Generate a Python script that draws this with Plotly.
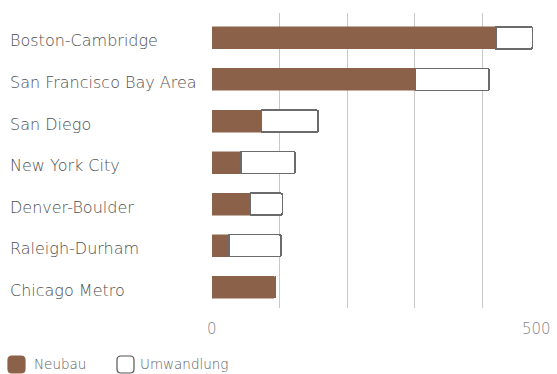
import plotly.graph_objects as go

categories = ["Boston-Cambridge", "San Francisco Bay Area", "San Diego", "New York City",
              "Denver-Boulder", "Raleigh-Durham", "Chicago Metro"]
neubau = [420, 301, 73, 43, 57, 25, 94]
umwandlung = [54, 109, 84, 80, 47, 77, 0]
x_tick_vals = [0, 500]
x_tick_text = ["0", "500"]
grid_vals = [0, 100, 200, 300, 400, 500]
series_names = ["Neubau", "Umwandlung"]

FONT = "DejaVu Sans"
NEUBAU_COLOR = "#8B6249"
EDGE_COLOR = "#6b6b6b"
W, H = 557, 374
ml, mr, mt, mb = 212, 7, 13, 66
pw = W - ml - mr
ph = H - mt - mb

fig = go.Figure()
fig.add_trace(go.Bar(
    y=categories, x=neubau, name=series_names[0], orientation="h",
    marker=dict(color=NEUBAU_COLOR, line=dict(color=NEUBAU_COLOR, width=0.5), cornerradius=2),
    width=0.53,
))
fig.add_trace(go.Bar(
    y=categories, x=umwandlung, name=series_names[1], orientation="h",
    marker=dict(color="#ffffff", line=dict(color=EDGE_COLOR, width=1.5), cornerradius=2),
    width=0.53,
))

annotations = []
for c in categories:
    annotations.append(dict(
        x=-(ml - 8) / pw, xref="paper", y=c, yref="y", text=c, showarrow=False,
        xanchor="left", yanchor="middle", yshift=-3,
        font=dict(family=FONT, size=16, color="#505050", weight=200),
    ))
for v, t in zip(x_tick_vals, x_tick_text):
    last = v == max(x_tick_vals)
    annotations.append(dict(
        x=v, xref="x", y=0, yref="paper", text=t, showarrow=False,
        xanchor="right" if last else "center", xshift=3 if last else 0,
        yanchor="middle", yshift=-21,
        font=dict(family=FONT, size=15, color="#858585", weight=200),
    ))


def px_x(p):
    return (p - ml) / pw


def px_y(p):
    return (H - mb - p) / ph


def rounded_rect(x0, y0, x1, y1, r):
    pts = [
        f"M {px_x(x0 + r)},{px_y(y0)}",
        f"L {px_x(x1 - r)},{px_y(y0)}",
        f"Q {px_x(x1)},{px_y(y0)} {px_x(x1)},{px_y(y0 + r)}",
        f"L {px_x(x1)},{px_y(y1 - r)}",
        f"Q {px_x(x1)},{px_y(y1)} {px_x(x1 - r)},{px_y(y1)}",
        f"L {px_x(x0 + r)},{px_y(y1)}",
        f"Q {px_x(x0)},{px_y(y1)} {px_x(x0)},{px_y(y1 - r)}",
        f"L {px_x(x0)},{px_y(y0 + r)}",
        f"Q {px_x(x0)},{px_y(y0)} {px_x(x0 + r)},{px_y(y0)}",
        "Z",
    ]
    return " ".join(pts)


legend_items = [
    (series_names[0], 8, NEUBAU_COLOR, NEUBAU_COLOR, 32),
    (series_names[1], 117, "#ffffff", "#555555", 138),
]
shapes = []
for name, sx, fill, edge, tx in legend_items:
    shapes.append(dict(type="path", xref="paper", yref="paper",
                       path=rounded_rect(sx, 356, sx + 17, 373, 4),
                       fillcolor=fill, line=dict(color=edge, width=1.2)))
    annotations.append(dict(
        x=px_x(tx), xref="paper", y=px_y(364), yref="paper", text=name, showarrow=False,
        xanchor="left", yanchor="middle",
        font=dict(family=FONT, size=13.5, color="#606060", weight=200),
    ))

fig.update_layout(
    width=W, height=H,
    margin=dict(l=ml, r=mr, t=mt, b=mb, autoexpand=False),
    barmode="stack",
    plot_bgcolor="white", paper_bgcolor="white",
    showlegend=False,
    annotations=annotations,
    shapes=shapes,
    xaxis=dict(range=[0, 500], tickvals=grid_vals, showticklabels=False,
               showgrid=True, gridcolor="#c8c8c8", gridwidth=1,
               zeroline=False, showline=False, fixedrange=True),
    yaxis=dict(type="category", categoryorder="array", categoryarray=categories,
               range=[6.5, -0.6], showticklabels=False, showgrid=False,
               zeroline=False, showline=False, fixedrange=True),
)

fig.write_html("out.html", config={"displayModeBar": False},
               post_script="document.body.style.margin='0';")
